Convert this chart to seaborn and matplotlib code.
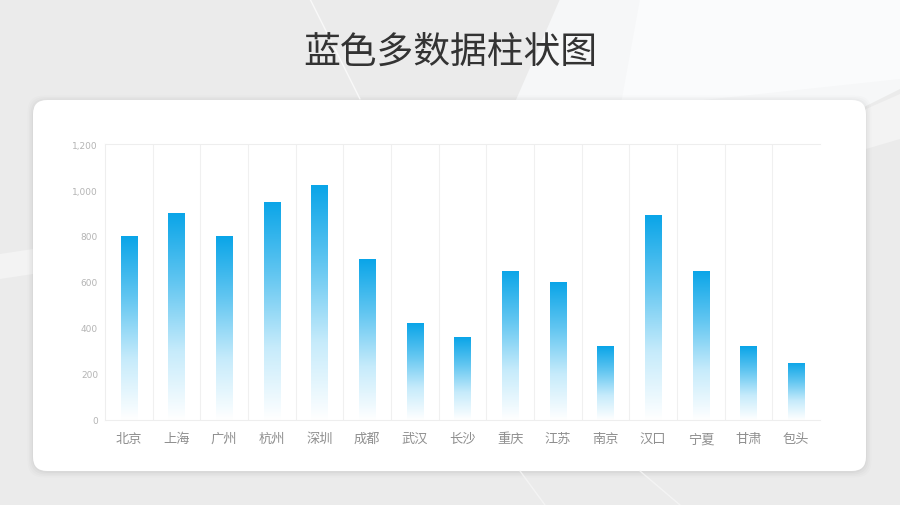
import numpy as np
import pandas as pd
import matplotlib
matplotlib.use("Agg")
import matplotlib.pyplot as plt
import seaborn as sns
from matplotlib.patches import FancyBboxPatch, Polygon
from matplotlib.colors import LinearSegmentedColormap

cities = ["北京", "上海", "广州", "杭州", "深圳", "成都", "武汉", "长沙",
          "重庆", "江苏", "南京", "汉口", "宁夏", "甘肃", "包头"]
values = [800, 900, 800, 950, 1020, 700, 420, 360, 650, 600, 320, 890, 650, 320, 250]
yticks = [0, 200, 400, 600, 800, 1000, 1200]
ytick_labels = ["0", "200", "400", "600", "800", "1,000", "1,200"]
title = "蓝色多数据柱状图"

sns.set_theme(style="white")
plt.rcParams['font.family'] = ['Noto Sans CJK SC', 'DejaVu Sans']

W, H = 900, 506
fig = plt.figure(figsize=(W / 100, H / 100), dpi=100)
fig.patch.set_facecolor("#ebebeb")

# background decoration
bg = fig.add_axes([0, 0, 1, 1], zorder=0)
bg.set_xlim(0, W); bg.set_ylim(H, 0); bg.axis("off")
bg.add_patch(Polygon([[560, 0], [900, 0], [900, 90], [860, 110], [512, 110]],
                     closed=True, facecolor="#f6f7f8", edgecolor="none"))
bg.add_patch(Polygon([[640, 0], [900, 0], [900, 80], [620, 110]],
                     closed=True, facecolor="#fafbfc", edgecolor="none"))
bg.plot([310, 360], [0, 100], color="#ffffff", lw=1.0, alpha=0.7)
bg.plot([520, 545], [472, 506], color="#f6f6f6", lw=1, alpha=0.8)
bg.plot([640, 680], [472, 506], color="#f6f6f6", lw=1, alpha=0.8)
bg.add_patch(Polygon([[0, 255], [33, 250], [33, 275], [0, 280]], closed=True,
                     facecolor="#f3f3f3", edgecolor="none"))
bg.add_patch(Polygon([[866, 110], [900, 95], [900, 140], [866, 150]], closed=True,
                     facecolor="#f3f3f3", edgecolor="none"))

# card shadow and card
for i, a in enumerate([0.025, 0.02, 0.015, 0.01]):
    d = 2 + i * 3
    bg.add_patch(FancyBboxPatch((33 - d / 2, 101 - d / 2 + 1), 833 + d, 371 + d,
                                boxstyle="round,pad=0,rounding_size=16",
                                facecolor="#000000", edgecolor="none", alpha=a))
bg.add_patch(FancyBboxPatch((33, 101), 833, 371,
                            boxstyle="round,pad=0,rounding_size=14",
                            facecolor="white", edgecolor="none"))

fig.text(0.5, 1 - 52 / H, title, ha="center", va="center",
         fontsize=26.5, color="#333333")

# plot area
x0, x1, ytop, ybot = 105, 820, 145, 421
ax = fig.add_axes([x0 / W, 1 - ybot / H, (x1 - x0) / W, (ybot - ytop) / H], zorder=2)
ax.set_facecolor("none")

df = pd.DataFrame({"city": cities, "value": values})
sns.barplot(data=df, x="city", y="value", ax=ax, color="#0aa5e8", width=0.34,
            saturation=1)

ax.set_ylim(0, 1200)
ax.set_xlim(-0.5, len(cities) - 0.5)
ax.set_yticks(yticks)
ax.set_yticklabels(ytick_labels, fontsize=6.5, color="#b4b4b4", family="DejaVu Sans")
ax.tick_params(axis="y", length=0, pad=5)
ax.tick_params(axis="x", length=0, pad=16)
for lab in ax.get_xticklabels():
    lab.set_fontsize(9.5)
    lab.set_color("#8f8f8f")
    lab.set_verticalalignment("baseline")
ax.set_xlabel(""); ax.set_ylabel("")

for s in ["left", "right", "top", "bottom"]:
    ax.spines[s].set_color("#eeeeee")
    ax.spines[s].set_linewidth(0.8)
ax.spines["right"].set_visible(False)

for b in np.arange(0.5, len(cities) - 0.5, 1.0):
    ax.axvline(b, color="#f0f0f0", lw=0.8, zorder=0)

cmap = LinearSegmentedColormap.from_list("g", ["#ffffff", "#c6ebfb", "#62c6f1", "#0aa5e8"])
gimg = np.linspace(0, 1, 256).reshape(-1, 1)
for p in list(ax.patches):
    x, y = p.get_x(), p.get_y()
    w, h = p.get_width(), p.get_height()
    p.set_facecolor("none")
    p.set_edgecolor("none")
    im = ax.imshow(gimg, cmap=cmap, aspect="auto", origin="lower",
                   extent=(x, x + w, y, y + h), zorder=2)
    im.set_clip_path(p)
ax.set_xlim(-0.5, len(cities) - 0.5)
ax.set_ylim(0, 1200)

fig.savefig("out.png", dpi=100, facecolor=fig.get_facecolor())
